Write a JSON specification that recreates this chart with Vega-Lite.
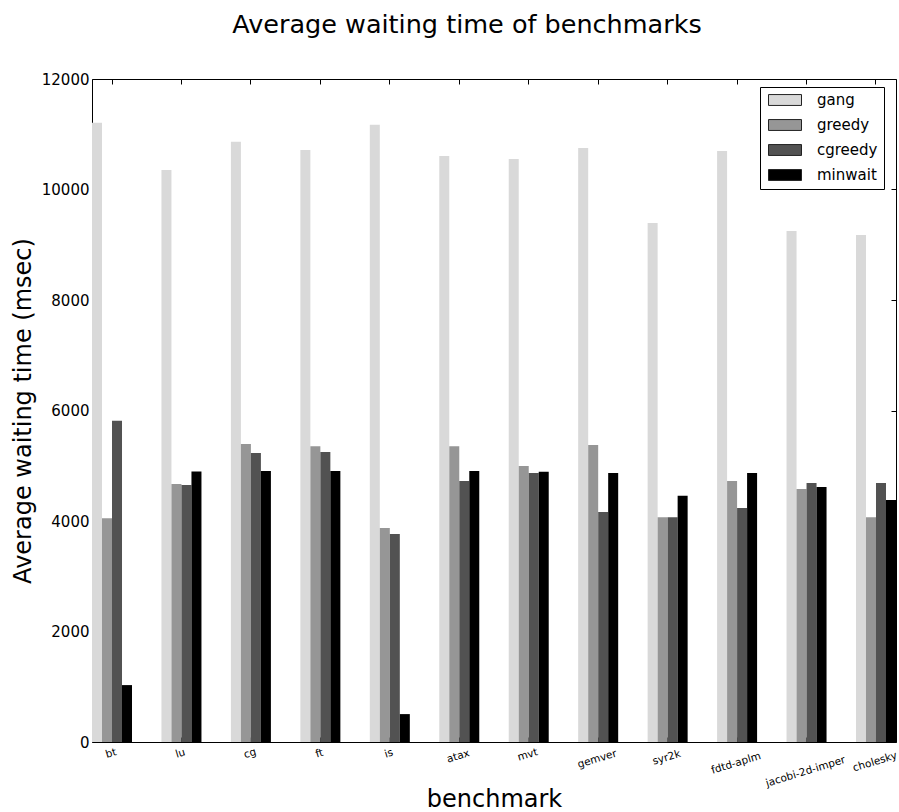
{
  "$schema": "https://vega.github.io/schema/vega-lite/v6.json",
  "autosize": {"type": "none"},
  "padding": {"left": 92, "top": 79, "right": 3, "bottom": 70},
  "width": 804,
  "height": 663,
  "background": "white",
  "title": {
    "text": "Average waiting time of benchmarks",
    "font": "DejaVu Sans",
    "fontSize": 25.5,
    "fontWeight": "normal",
    "color": "black",
    "anchor": "middle",
    "dx": -27,
    "offset": 34
  },
  "config": {
    "view": {"stroke": "black", "strokeWidth": 1},
    "axis": {
      "labelFont": "DejaVu Sans",
      "titleFont": "DejaVu Sans",
      "labelColor": "black",
      "titleColor": "black",
      "domainColor": "black",
      "tickColor": "black",
      "grid": false,
      "titleFontWeight": "normal"
    },
    "legend": {"labelFont": "DejaVu Sans"}
  },
  "data": {
    "values": [
      {"benchmark": "bt", "policy": "gang", "time": 11210},
      {"benchmark": "bt", "policy": "greedy", "time": 4050},
      {"benchmark": "bt", "policy": "cgreedy", "time": 5815},
      {"benchmark": "bt", "policy": "minwait", "time": 1030},
      {"benchmark": "lu", "policy": "gang", "time": 10355},
      {"benchmark": "lu", "policy": "greedy", "time": 4670},
      {"benchmark": "lu", "policy": "cgreedy", "time": 4650},
      {"benchmark": "lu", "policy": "minwait", "time": 4895},
      {"benchmark": "cg", "policy": "gang", "time": 10865},
      {"benchmark": "cg", "policy": "greedy", "time": 5395},
      {"benchmark": "cg", "policy": "cgreedy", "time": 5230},
      {"benchmark": "cg", "policy": "minwait", "time": 4905},
      {"benchmark": "ft", "policy": "gang", "time": 10715},
      {"benchmark": "ft", "policy": "greedy", "time": 5355},
      {"benchmark": "ft", "policy": "cgreedy", "time": 5250},
      {"benchmark": "ft", "policy": "minwait", "time": 4905},
      {"benchmark": "is", "policy": "gang", "time": 11170},
      {"benchmark": "is", "policy": "greedy", "time": 3875},
      {"benchmark": "is", "policy": "cgreedy", "time": 3765},
      {"benchmark": "is", "policy": "minwait", "time": 505},
      {"benchmark": "atax", "policy": "gang", "time": 10605},
      {"benchmark": "atax", "policy": "greedy", "time": 5355},
      {"benchmark": "atax", "policy": "cgreedy", "time": 4725},
      {"benchmark": "atax", "policy": "minwait", "time": 4905},
      {"benchmark": "mvt", "policy": "gang", "time": 10550},
      {"benchmark": "mvt", "policy": "greedy", "time": 4995},
      {"benchmark": "mvt", "policy": "cgreedy", "time": 4870},
      {"benchmark": "mvt", "policy": "minwait", "time": 4890},
      {"benchmark": "gemver", "policy": "gang", "time": 10750},
      {"benchmark": "gemver", "policy": "greedy", "time": 5375},
      {"benchmark": "gemver", "policy": "cgreedy", "time": 4165},
      {"benchmark": "gemver", "policy": "minwait", "time": 4870},
      {"benchmark": "syr2k", "policy": "gang", "time": 9395},
      {"benchmark": "syr2k", "policy": "greedy", "time": 4070},
      {"benchmark": "syr2k", "policy": "cgreedy", "time": 4070},
      {"benchmark": "syr2k", "policy": "minwait", "time": 4455},
      {"benchmark": "fdtd-aplm", "policy": "gang", "time": 10695},
      {"benchmark": "fdtd-aplm", "policy": "greedy", "time": 4725},
      {"benchmark": "fdtd-aplm", "policy": "cgreedy", "time": 4235},
      {"benchmark": "fdtd-aplm", "policy": "minwait", "time": 4870},
      {"benchmark": "jacobi-2d-imper", "policy": "gang", "time": 9250},
      {"benchmark": "jacobi-2d-imper", "policy": "greedy", "time": 4580},
      {"benchmark": "jacobi-2d-imper", "policy": "cgreedy", "time": 4690},
      {"benchmark": "jacobi-2d-imper", "policy": "minwait", "time": 4615},
      {"benchmark": "cholesky", "policy": "gang", "time": 9175},
      {"benchmark": "cholesky", "policy": "greedy", "time": 4070},
      {"benchmark": "cholesky", "policy": "cgreedy", "time": 4690},
      {"benchmark": "cholesky", "policy": "minwait", "time": 4380}
    ]
  },
  "resolve": {"axis": {"x": "independent", "y": "independent"}},
  "layer": [
    {
      "mark": {"type": "bar", "clip": true},
      "encoding": {
        "x": {
          "field": "benchmark",
          "type": "nominal",
          "sort": null,
          "scale": {"paddingInner": 0.424, "paddingOuter": 0},
          "axis": {
            "title": "benchmark",
            "titleFontSize": 24,
            "titlePadding": -1,
            "labelFontSize": 10.5,
            "labelAngle": -17,
            "labelAlign": "center",
            "labelBaseline": "middle",
            "labelPadding": 10,
            "labelBound": false,
            "tickSize": -5,
            "domain": false,
            "encoding": {
              "labels": {
                "dy": {"value": {"expr": "(3 + 1.4 * length(datum.label)) / 1.046"}},
                "dx": {"value": {"expr": "-1 - 0.306 * (3 + 1.4 * length(datum.label)) / 1.046"}}
              }
            }
          }
        },
        "xOffset": {
          "field": "policy",
          "type": "nominal",
          "scale": {"domain": ["gang", "greedy", "cgreedy", "minwait"], "paddingInner": 0, "paddingOuter": 0}
        },
        "y": {
          "field": "time",
          "type": "quantitative",
          "stack": null,
          "scale": {"domain": [0, 12000], "nice": false},
          "axis": {
            "title": "Average waiting time (msec)",
            "titleFontSize": 24,
            "titlePadding": 6,
            "labelFontSize": 15,
            "values": [0, 2000, 4000, 6000, 8000, 10000, 12000],
            "format": "d",
            "tickSize": -5,
            "labelPadding": 8,
            "domain": false
          }
        },
        "color": {
          "field": "policy",
          "type": "nominal",
          "scale": {
            "domain": ["gang", "greedy", "cgreedy", "minwait"],
            "range": ["#d9d9d9", "#969696", "#525252", "#000000"]
          },
          "legend": {
            "title": null,
            "orient": "none",
            "legendX": 668,
            "legendY": 8,
            "strokeColor": "black",
            "fillColor": "white",
            "padding": 6,
            "cornerRadius": 0,
            "labelFontSize": 15,
            "labelColor": "black",
            "labelOffset": 15,
            "symbolOffset": 2,
            "clipHeight": 14,
            "rowPadding": 10,
            "symbolType": "M-1,-0.33H1V0.33H-1Z",
            "symbolSize": 1089,
            "symbolStrokeColor": "#222222",
            "symbolStrokeWidth": 1,
            "symbolOpacity": 1
          }
        }
      }
    },
    {
      "mark": {"type": "bar", "opacity": 0},
      "encoding": {
        "x": {
          "field": "benchmark",
          "type": "nominal",
          "sort": null,
          "axis": {"orient": "top", "title": null, "labels": false, "tickSize": -5, "domain": false}
        },
        "y": {
          "field": "time",
          "type": "quantitative",
          "stack": null,
          "axis": {
            "orient": "right",
            "title": null,
            "labels": false,
            "values": [0, 2000, 4000, 6000, 8000, 10000, 12000],
            "tickSize": -5,
            "domain": false
          }
        }
      }
    }
  ]
}
